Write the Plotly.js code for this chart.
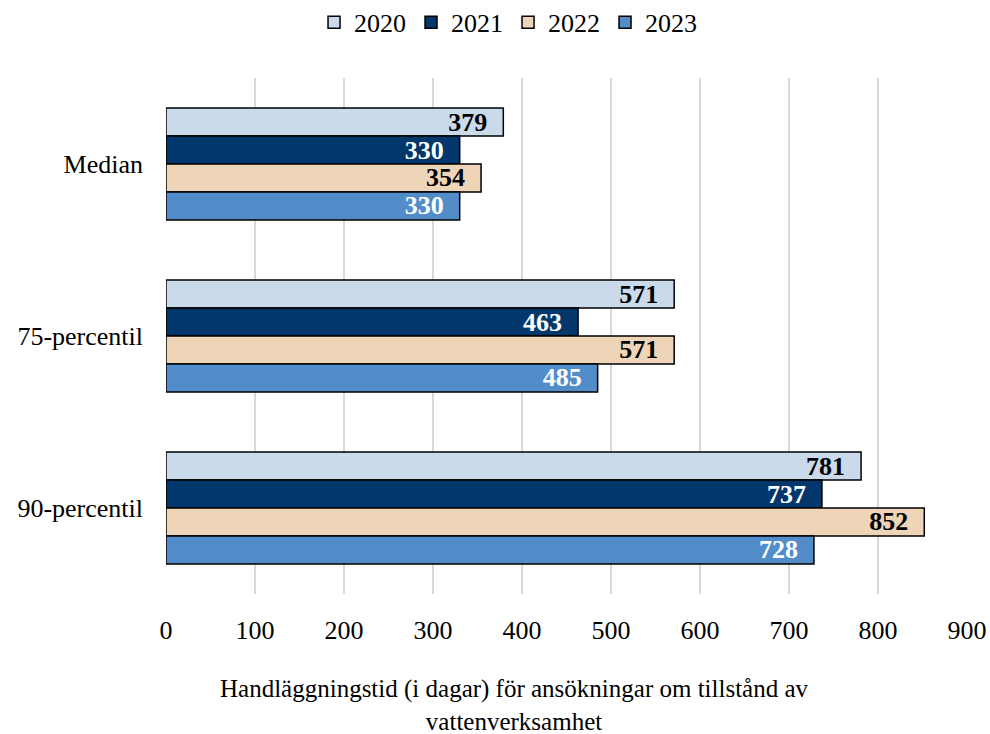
<!DOCTYPE html>
<html>
<head>
<meta charset="utf-8">
<script src="https://cdn.plot.ly/plotly-3.0.1.min.js"></script>
<style>html,body{margin:0;padding:0;background:#fff;}#chart{width:990px;height:734px;}</style>
</head>
<body>
<div id="chart"></div>
<script>
const categories = ["Median", "75-percentil", "90-percentil"];
const years = ["2020", "2021", "2022", "2023"];
const values2020 = [379, 571, 781];
const values2021 = [330, 463, 737];
const values2022 = [354, 571, 852];
const values2023 = [330, 485, 728];
const xTicks = [0, 100, 200, 300, 400, 500, 600, 700, 800, 900];
const axisTitle = "Handläggningstid (i dagar) för ansökningar om tillstånd av<br>vattenverksamhet";

const series = [values2020, values2021, values2022, values2023];
const fills = ["#CADAEB", "#02376B", "#EED5B7", "#538DC9"];
const labelColors = ["#000000", "#ffffff", "#000000", "#ffffff"];
const FONT = "'Liberation Serif', 'Times New Roman', serif";

const traces = series.map((vals, i) => ({
  type: "bar",
  orientation: "h",
  name: years[i],
  y: categories,
  x: vals,
  marker: {color: fills[i], line: {color: "#000000", width: 1.5}},
  texttemplate: "<b>%{x}</b>\u00a0\u00a0",
  textposition: "inside",
  insidetextanchor: "end",
  constraintext: "none",
  textangle: 0,
  insidetextfont: {family: FONT, size: 26, color: labelColors[i]},
  hoverinfo: "none"
}));

const layout = {
  width: 990, height: 734,
  margin: {l: 166, r: 23, t: 78, b: 140, autoexpand: false},
  paper_bgcolor: "#ffffff", plot_bgcolor: "#ffffff",
  font: {family: FONT, size: 26, color: "#000000"},
  barmode: "group",
  bargap: 0.35,
  bargroupgap: 0,
  showlegend: true,
  legend: {orientation: "h", x: 0.427, xanchor: "center", y: 1.108, yanchor: "middle",
           font: {family: FONT, size: 26}, traceorder: "normal", itemwidth: 30,
           tracegroupgap: 0},
  xaxis: {range: [0, 900], tickvals: xTicks, showgrid: true, gridcolor: "#D9D9D9", gridwidth: 2,
          zeroline: false, showline: false, ticks: "", ticklabelstandoff: 18,
          tickfont: {family: FONT, size: 26}, fixedrange: true},
  yaxis: {autorange: "reversed", ticks: "", showline: false, showgrid: false, zeroline: false,
          ticklabelstandoff: 22, tickfont: {family: FONT, size: 26}},
  annotations: [{text: axisTitle, xref: "paper", yref: "paper", x: 0.4357, y: -0.2151,
                 xanchor: "center", yanchor: "middle", showarrow: false,
                 font: {family: FONT, size: 25, color: "#000000"}}]
};

Plotly.newPlot("chart", traces, layout, {displayModeBar: false, staticPlot: true});
</script>
</body>
</html>
